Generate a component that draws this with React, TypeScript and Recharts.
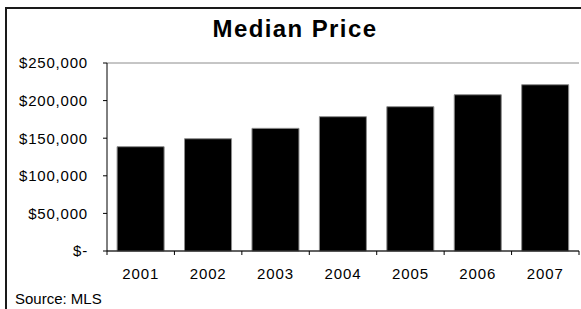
import { BarChart, Bar, XAxis, YAxis, CartesianGrid } from 'recharts'

const years = ['2001', '2002', '2003', '2004', '2005', '2006', '2007']
const medianPrice = [138700, 149300, 163100, 178600, 191900, 207800, 221100]
const priceTicks = [0, 50000, 100000, 150000, 200000, 250000]

const data = years.map((year, i) => ({ year, price: medianPrice[i] }))

const FONT = 'Arial, "Liberation Sans", sans-serif'

function fmtPrice(v: number) {
  return v === 0 ? '$-' : '$' + v.toLocaleString('en-US')
}

function YearTick(props: any) {
  const { x, y, payload, index, visibleTicksCount } = props
  const half = payload.offset ?? 0
  const last = index === (visibleTicksCount ?? years.length) - 1
  return (
    <g>
      <line x1={x - half} y1={y} x2={x - half} y2={y + 4} stroke="#000" />
      {last && <line x1={x + half} y1={y} x2={x + half} y2={y + 4} stroke="#000" />}
      <text
        x={x}
        y={y + 28}
        textAnchor="middle"
        fill="#000"
        style={{ fontSize: 15, letterSpacing: 0.9, fontFamily: FONT }}
      >
        {payload.value}
      </text>
    </g>
  )
}

export default function App() {
  return (
    <div
      style={{
        position: 'absolute',
        left: 0,
        top: 0,
        width: 581,
        height: 309,
        overflow: 'hidden',
        background: '#fff',
        fontFamily: FONT,
      }}
    >
      <div
        style={{
          position: 'absolute',
          left: 5,
          top: 7,
          width: 620,
          height: 340,
          borderLeft: '2px solid #1a1a1a',
          borderTop: '2px solid #1a1a1a',
        }}
      />
      <div
        style={{
          position: 'absolute',
          left: 0,
          top: 17,
          width: 590,
          textAlign: 'center',
          fontSize: 24,
          lineHeight: '24px',
          fontWeight: 'bold',
          letterSpacing: 1.4,
          color: '#000',
        }}
      >
        Median Price
      </div>
      <div style={{ position: 'absolute', left: 0, top: 0 }}>
        <BarChart
          width={581}
          height={309}
          data={data}
          margin={{ top: 63, right: 2, bottom: 0, left: 0 }}
          barCategoryGap="15%"
        >
          <CartesianGrid vertical={false} stroke="#8c8c8c" />
          <XAxis
            dataKey="year"
            height={58}
            axisLine={{ stroke: '#000' }}
            tickLine={false}
            tickSize={0}
            tickMargin={0}
            interval={0}
            tick={<YearTick />}
          />
          <YAxis
            yAxisId="left"
            width={107}
            domain={[0, 250000]}
            ticks={priceTicks}
            tickFormatter={fmtPrice}
            axisLine={{ stroke: '#000' }}
            tickLine={{ stroke: '#000' }}
            tickSize={4}
            tickMargin={15}
            tick={{ fill: '#000', fontSize: 15, fontFamily: FONT, letterSpacing: 0.8 }}
          />
          <YAxis
            yAxisId="right"
            orientation="right"
            width={0}
            domain={[0, 250000]}
            tick={false}
            tickLine={false}
            axisLine={{ stroke: '#8c8c8c', strokeWidth: 2 }}
          />
          <Bar
            yAxisId="left"
            dataKey="price"
            fill="#000"
            stroke="#8c8c8c"
            strokeWidth={1}
            isAnimationActive={false}
          />
        </BarChart>
      </div>
      <div
        style={{
          position: 'absolute',
          left: 15,
          top: 291,
          fontSize: 15,
          lineHeight: '15px',
          color: '#000',
        }}
      >
        Source: MLS
      </div>
    </div>
  )
}
